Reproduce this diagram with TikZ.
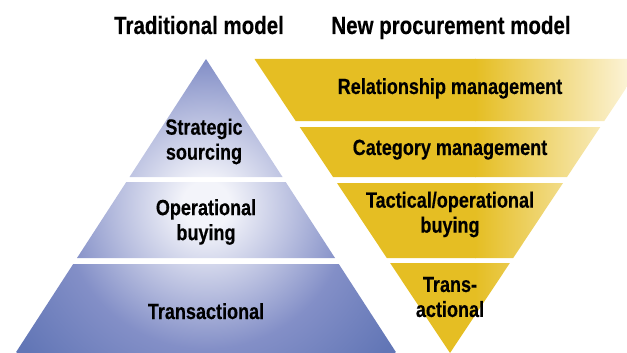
\documentclass[tikz,border=0pt]{standalone}
\usepackage{fontspec}
\setmainfont{Liberation Sans}[FakeStretch=0.82, BoldFeatures={FakeBold=0.3}]

\definecolor{pyrcore}{RGB}{243,244,250}
\definecolor{pyrlight}{RGB}{186,192,224}
\definecolor{pyrmid}{RGB}{131,143,199}
\definecolor{pyrdeep}{RGB}{98,118,182}
\definecolor{gold}{RGB}{229,190,35}
\definecolor{cream}{RGB}{252,244,218}

% soft blue glow spreading out from the middle of the pyramid
\pgfdeclareradialshading{pyramidglow}{\pgfpoint{0bp}{0bp}}{%
  color(0bp)=(pyrcore); color(2.5bp)=(pyrcore); color(9bp)=(pyrlight);
  color(15bp)=(pyrmid); color(24bp)=(pyrdeep); color(50bp)=(pyrdeep)}

\begin{document}
\begin{tikzpicture}[x=1pt,y=-1pt,
  heading/.style={font=\fontsize{25}{29}\selectfont\bfseries, inner sep=0pt, anchor=base},
  tierlabel/.style={font=\fontsize{22}{25}\selectfont\bfseries, inner sep=0pt, align=center}]
\useasboundingbox (0,0) rectangle (627,353);

% traditional model: upright pyramid cut into three tiers
\begin{scope}
  \clip (206,59) -- (282.5,177) -- (129.5,177) -- cycle
        (126.3,182) -- (285.7,182) -- (335,258) -- (77,258) -- cycle
        (73.2,264) -- (338.8,264) -- (396.5,353) -- (15.5,353) -- cycle;
  \shade[shading=pyramidglow] (206,205) circle (240pt);
\end{scope}

% new procurement model: inverted pyramid cut into four tiers
\begin{scope}
  \clip (254.5,59) -- (645.5,59) -- (604.3,121) -- (295.7,121) -- cycle
        (299.7,127) -- (600.3,127) -- (567,177) -- (333,177) -- cycle
        (337,183) -- (563,183) -- (513.2,258) -- (386.8,258) -- cycle
        (390.1,263) -- (509.9,263) -- (450,353) -- cycle;
  \fill[gold] (250,55) rectangle (476,360);
  \shade[left color=gold, right color=cream] (475,55) rectangle (632,360);
\end{scope}

% headings
\node[heading] (tradhead) at (199,34) {Traditional model};
\node[heading] (newhead) at (451,34) {New procurement model};

% tiers of the traditional model
\node[tierlabel, anchor=center] (strat) at (204,141.5) {Strategic\\sourcing};
\node[tierlabel, anchor=center] (oper) at (206,222) {Operational\\buying};
\node[tierlabel, anchor=base] (trans) at (206,319) {Transactional};

% tiers of the new procurement model
\node[tierlabel, anchor=base] (rel) at (450,94) {Relationship management};
\node[tierlabel, anchor=base] (cat) at (450,155) {Category management};
\node[tierlabel, anchor=center] (tact) at (450,214.5) {Tactical/operational\\buying};
\node[tierlabel, anchor=center] (trans2) at (450,297) {Trans-\\actional};
\end{tikzpicture}
\end{document}
